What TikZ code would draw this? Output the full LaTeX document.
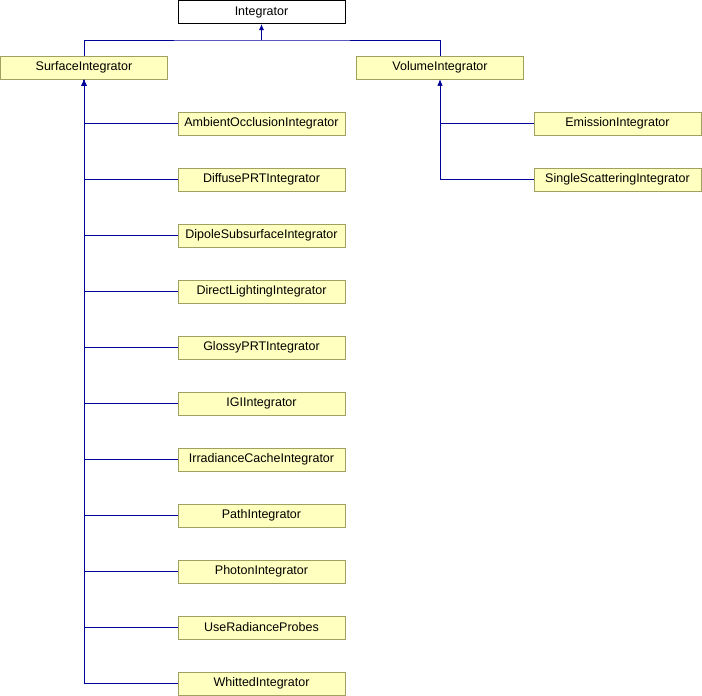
\documentclass[tikz,border=0pt]{standalone}
\usepackage{fontspec}
\setmainfont{Liberation Sans}
\usetikzlibrary{arrows.meta}

\definecolor{boxfill}{HTML}{FFFFC0}
\definecolor{boxline}{HTML}{A0A060}
\definecolor{edgeblue}{HTML}{000099}

\tikzset{
  cls/.style={draw=boxline, fill=boxfill, line width=1pt, minimum width=167pt,
    minimum height=23pt, inner sep=0pt, font=\fontsize{12.5}{14}\selectfont},
  base/.style={cls, draw=black, fill=white},
  edge/.style={edgeblue, line width=1pt, -{Latex[length=6pt,width=5pt]}}
}

\begin{document}
\begin{tikzpicture}[x=1pt,y=-1pt]
\useasboundingbox (0,0) rectangle (702,696);
\node[base] (I) at (261.5,12) {Integrator};
\node[cls] (SI) at (84,67.5) {SurfaceIntegrator};
\node[cls] (VI) at (440,67.5) {VolumeIntegrator};
\coordinate (top) at (261.5,40);
\draw[edge, -] (SI.north) |- (top) -| (VI.north);
\draw[edge] (top) -- (I.south);
% children of SurfaceIntegrator
\foreach \name [count=\i from 0] in {AmbientOcclusionIntegrator,DiffusePRTIntegrator,
  DipoleSubsurfaceIntegrator,DirectLightingIntegrator,GlossyPRTIntegrator,IGIIntegrator,
  IrradianceCacheIntegrator,PathIntegrator,PhotonIntegrator,UseRadianceProbes,WhittedIntegrator} {
 \node[cls] (S\i) at (261.5,123.5+56*\i) {\name};
 \draw[edge] (S\i.west) -| (SI.south);
}
% children of VolumeIntegrator
\foreach \name [count=\i from 0] in {EmissionIntegrator,SingleScatteringIntegrator} {
 \node[cls] (V\i) at (617.5,123.5+56*\i) {\name};
 \draw[edge] (V\i.west) -| (VI.south);
}
\end{tikzpicture}
\end{document}
